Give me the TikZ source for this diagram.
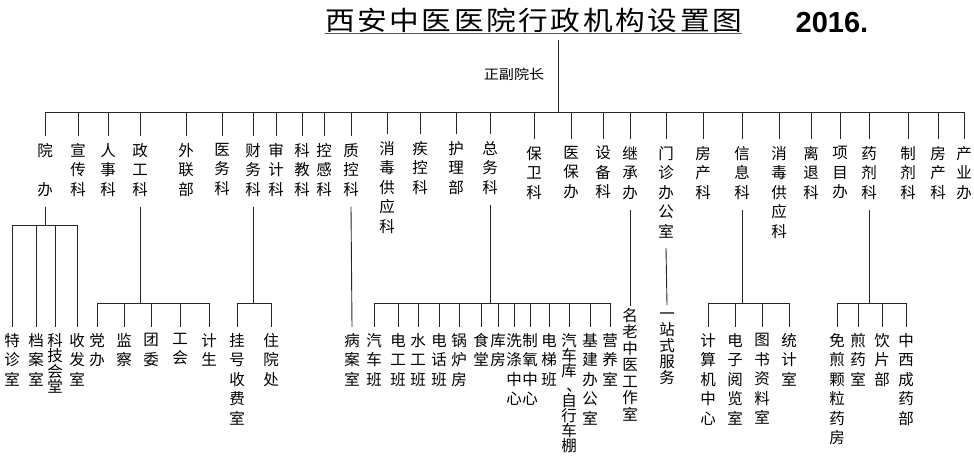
\documentclass[tikz,border=0pt]{standalone}
\usepackage{fontspec}
\newfontfamily\cjk{Noto Sans CJK SC}
\newfontfamily\cjkw{Noto Sans CJK SC}[FakeStretch=1.12]
\newfontfamily\arialf{Liberation Sans}
\begin{document}
\begin{tikzpicture}[x=1bp,y=-1bp,
  ln/.style={line width=0.9bp,draw=black!85},
  vt/.style={font=\cjk\fontsize{15.5bp}{19.5bp}\selectfont,align=center,inner sep=0pt,anchor=north,text=black},
  vtn/.style={vt,font=\cjk\fontsize{15.5bp}{#1}\selectfont}
 ]
\useasboundingbox (0,0) rectangle (974,456);

% title
\node[font=\cjkw\fontsize{26.5bp}{30bp}\selectfont,inner sep=0pt] (title) at (533.5,20)
  {\makebox[417bp]{西\hfill 安\hfill 中\hfill 医\hfill 医\hfill 院\hfill 行\hfill 政\hfill 机\hfill 构\hfill 设\hfill 置\hfill 图}};
\draw[line width=1.8bp,black!65] ([yshift=-1bp]title.south west) -- ([yshift=-1bp]title.south east);
\node[font=\arialf\bfseries\fontsize{29bp}{32bp}\selectfont,inner sep=0pt] (year) at (832,22.5) {2016.};

\coordinate (top) at (558,40);
\coordinate (bus) at (558,112);
\node[font=\cjkw\fontsize{13.5bp}{16bp}\selectfont,inner sep=0pt] (chief) at (514,74) {正副院长};
\draw[ln] (top) -- (bus);

% departments
\node[vt] (d1) at (45,143) {院\\\mbox{}\\办};
\node[vt] (d2) at (78,143) {宣\\传\\科};
\node[vt] (d3) at (108,143) {人\\事\\科};
\node[vt] (d4) at (140,143) {政\\工\\科};
\node[vt] (d5) at (186,143) {外\\联\\部};
\node[vt] (d6) at (222,143) {医\\务\\科};
\node[vt] (d7) at (253,143) {财\\务\\科};
\node[vt] (d8) at (276,143) {审\\计\\科};
\node[vt] (d9) at (302,143) {科\\教\\科};
\node[vt] (d10) at (324,143) {控\\感\\科};
\node[vt] (d11) at (351,143) {质\\控\\科};
\node[vt] (d12) at (387,141) {消\\毒\\供\\应\\科};
\node[vt] (d13) at (420,141) {疾\\控\\科};
\node[vt] (d14) at (456,141) {护\\理\\部};
\node[vt] (d15) at (490,141) {总\\务\\科};
\node[vt] (d16) at (534,146) {保\\卫\\科};
\node[vt] (d17) at (571,146) {医\\保\\办};
\node[vt] (d18) at (603,146) {设\\备\\科};
\node[vt] (d19) at (630,146) {继\\承\\办};
\node[vt] (d20) at (666,146) {门\\诊\\办\\公\\室};
\node[vt] (d21) at (703,146) {房\\产\\科};
\node[vt] (d22) at (742,146) {信\\息\\科};
\node[vt] (d23) at (779,146) {消\\毒\\供\\应\\科};
\node[vt] (d24) at (811,146) {离\\退\\科};
\node[vt] (d25) at (840,146) {项\\目\\办};
\node[vt] (d26) at (869,146) {药\\剂\\科};
\node[vt] (d27) at (908,146) {制\\剂\\科};
\node[vt] (d28) at (938,146) {房\\产\\科};
\node[vt] (d29) at (964,146) {产\\业\\办};

\draw[ln] (d1.north |- bus) -- (d29.north |- bus);
\foreach \n in {d1,d2,d3,d4,d5,d6,d7,d8,d9,d10,d11,d12,d13,d14,d15,d16,d17,d18,d19,d20,d21,d22,d23,d24,d25,d26,d27,d28,d29}
  \draw[ln] (\n.north |- bus) -- ([yshift=7bp]\n.north);

\coordinate (brkA) at (45,225);
\coordinate (brk) at (0,303);

% 院办
\node[vt] (e1) at (12,333) {特\\诊\\室};
\node[vt] (e2) at (36,333) {档\\案\\室};
\node[vtn=15.5bp] (e3) at (55,333) {科\\技\\会\\堂};
\node[vt] (e4) at (77,333) {收\\发\\室};
\draw[ln] ([yshift=-10bp]d1.south) -- (d1.south |- brkA);
\draw[ln] (e1.north |- brkA) -- (e4.north |- brkA);
\foreach \c in {e1,e2,e3,e4} \draw[ln] (\c.north |- brkA) -- ([yshift=6bp]\c.north);

% 政工科
\node[vt] (f1) at (97,333) {党\\办};
\node[vt] (f2) at (124,333) {监\\察};
\node[vt] (f3) at (151,333) {团\\委};
\node[vt] (f4) at (180,333) {工\\会};
\node[vt] (f5) at (209,333) {计\\生};
\draw[ln] ([yshift=-10bp]d4.south) -- (d4.south |- brk);
\draw[ln] (f1.north |- brk) -- (f5.north |- brk);
\foreach \c in {f1,f2,f3,f4,f5} \draw[ln] (\c.north |- brk) -- ([yshift=6bp]\c.north);

% 财务科
\node[vt] (g1) at (237,333) {挂\\号\\收\\费\\室};
\node[vt] (g2) at (271,333) {住\\院\\处};
\draw[ln] ([yshift=-10bp]d7.south) -- (d7.south |- brk);
\draw[ln] (g1.north |- brk) -- (g2.north |- brk);
\foreach \c in {g1,g2} \draw[ln] (\c.north |- brk) -- ([yshift=6bp]\c.north);

% 质控科
\node[vt] (h1) at (352,333) {病\\案\\室};
\draw[ln] ([yshift=-10bp]d11.south) -- ([yshift=6bp]h1.north);

% 总务科
\node[vt] (k1) at (374,333) {汽\\车\\班};
\node[vt] (k2) at (398,333) {电\\工\\班};
\node[vt] (k3) at (418,333) {水\\工\\班};
\node[vt] (k4) at (439,333) {电\\话\\班};
\node[vt] (k5) at (459,333) {锅\\炉\\房};
\node[vt] (k6) at (481,333) {食\\堂};
\node[vt] (k7) at (498,333) {库\\房};
\node[vt] (k8) at (514,333) {洗\\涤\\中\\心};
\node[vt] (k9) at (530,333) {制\\氧\\中\\心};
\node[vt] (k10) at (549,333) {电\\梯\\班};
\node[vtn=15bp] (k11) at (569,333) {汽\\车\\库\\\makebox[1em][l]{\hspace{5bp}、}\\自\\行\\车\\棚};
\node[vt] (k12) at (590,333) {基\\建\\办\\公\\室};
\node[vt] (k13) at (610,333) {营\\养\\室};
\draw[ln] ([yshift=-10bp]d15.south) -- (d15.south |- brk);
\draw[ln] (k1.north |- brk) -- (k13.north |- brk);
\foreach \c in {k1,k2,k3,k4,k5,k6,k7,k8,k9,k10,k11,k12,k13} \draw[ln] (\c.north |- brk) -- ([yshift=6bp]\c.north);

% 继承办, 门诊办公室
\node[vtn=16.5bp] (m1) at (630,308) {名\\老\\中\\医\\工\\作\\室};
\draw[ln] ([yshift=-10bp]d19.south) -- ([yshift=2bp]m1.north);
\node[vtn=16bp] (m2) at (667,306) {\vphantom{站}一\\站\\式\\服\\务};
\draw[ln] ([yshift=-10bp]d20.south) -- ([yshift=1bp]m2.north);

% 信息科
\node[vt] (n1) at (708,333) {计\\算\\机\\中\\心};
\node[vt] (n2) at (735,333) {电\\子\\阅\\览\\室};
\node[vt] (n3) at (762,333) {图\\书\\资\\料\\室};
\node[vt] (n4) at (789,333) {统\\计\\室};
\draw[ln] ([yshift=-10bp]d22.south) -- (d22.south |- brk);
\draw[ln] (n1.north |- brk) -- (n4.north |- brk);
\foreach \c in {n1,n2,n3,n4} \draw[ln] (\c.north |- brk) -- ([yshift=6bp]\c.north);

% 药剂科
\node[vt] (p1) at (837,333) {免\\煎\\颗\\粒\\药\\房};
\node[vt] (p2) at (858,333) {煎\\药\\室};
\node[vt] (p3) at (882,333) {饮\\片\\部};
\node[vt] (p4) at (906,333) {中\\西\\成\\药\\部};
\draw[ln] ([yshift=-10bp]d26.south) -- (d26.south |- brk);
\draw[ln] (p1.north |- brk) -- (p4.north |- brk);
\foreach \c in {p1,p2,p3,p4} \draw[ln] (\c.north |- brk) -- ([yshift=6bp]\c.north);
\end{tikzpicture}
\end{document}
